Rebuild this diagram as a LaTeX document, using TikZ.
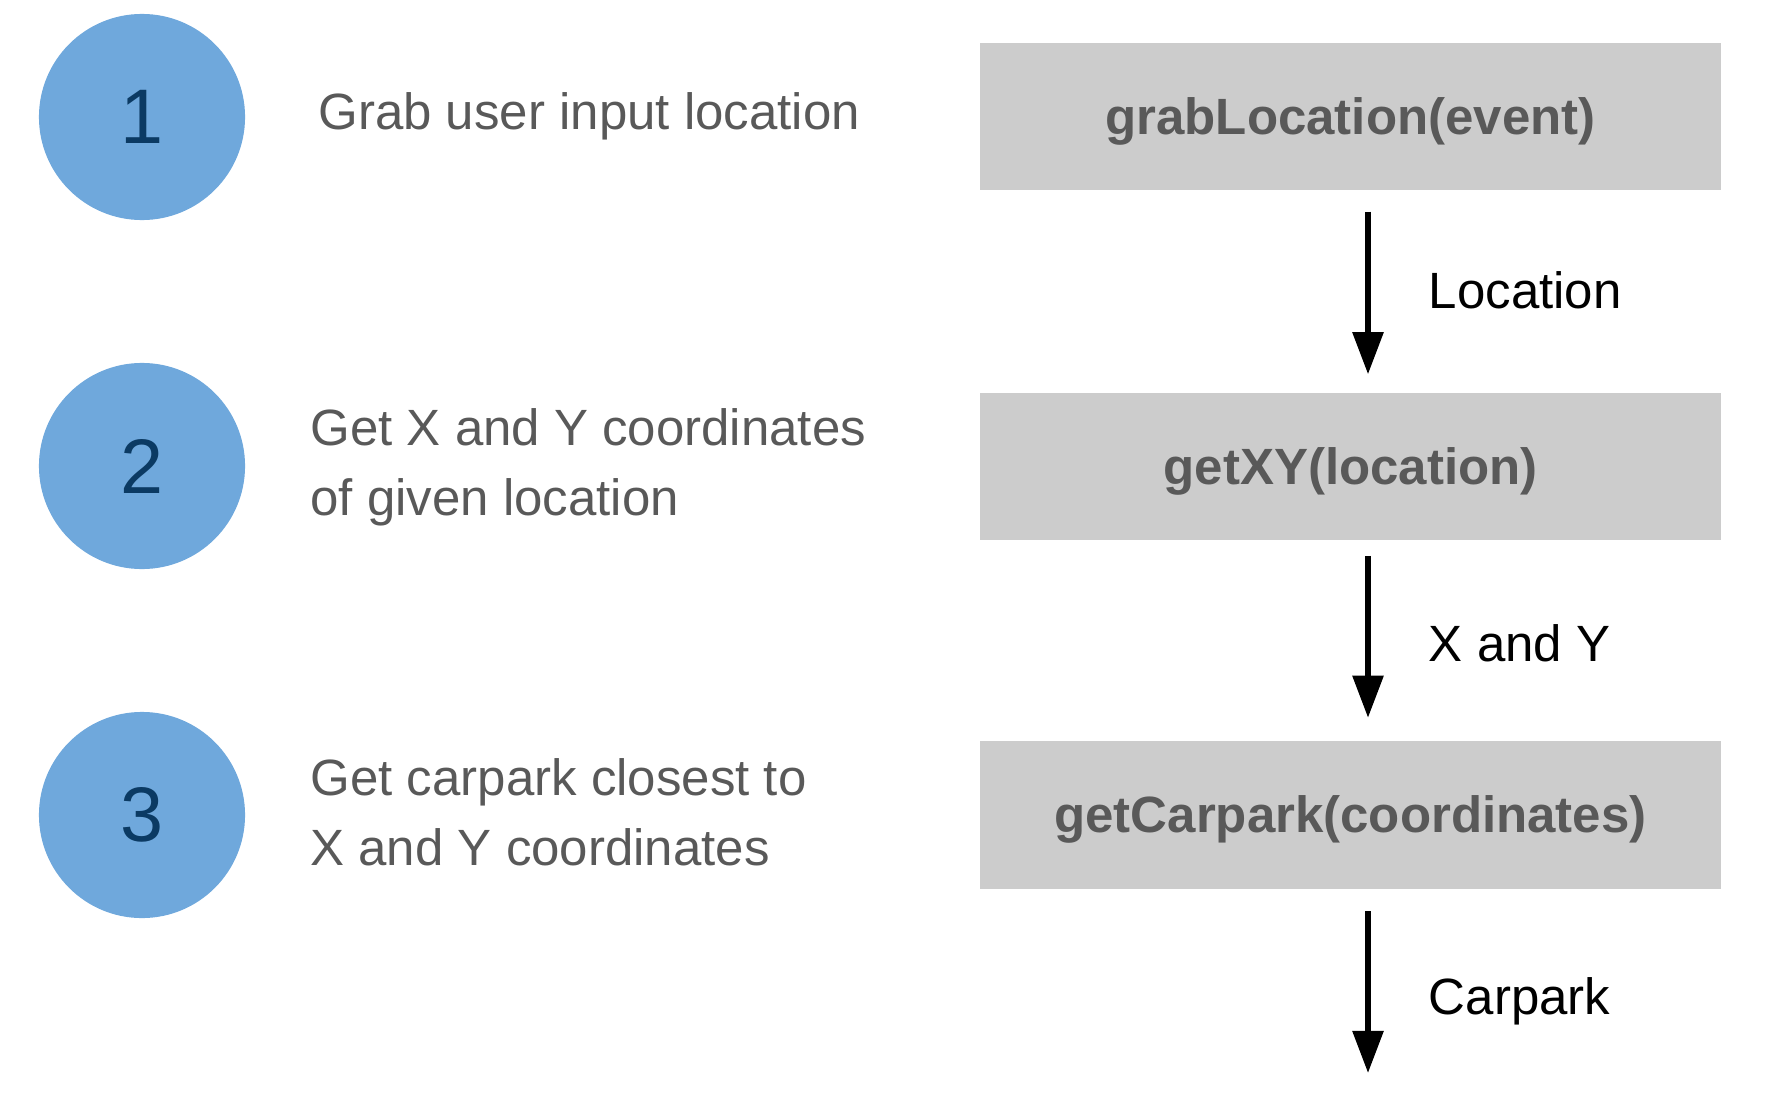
\documentclass[tikz,border=0pt]{standalone}
\usepackage{fontspec}
\setmainfont{Liberation Sans}
\usetikzlibrary{positioning,arrows.meta,calc}
\definecolor{stepblue}{HTML}{6FA8DC}
\definecolor{numblue}{HTML}{0B3A63}
\definecolor{textgrey}{HTML}{595959}
\definecolor{boxgrey}{HTML}{CCCCCC}

\begin{document}
\begin{tikzpicture}[
  x=0.01cm, y=-0.01cm,
  font=\fontsize{14.5}{19.9}\selectfont,
  stepnum/.style={circle, fill=stepblue, minimum size=2.06cm, inner sep=0pt,
                  text=numblue, font=\fontsize{22}{26}\selectfont},
  desc/.style={align=left, inner sep=0pt, text=textgrey},
  fnbox/.style={fill=boxgrey, minimum width=7.41cm, minimum height=1.47cm,
                inner sep=0pt, text depth=0.04em, text=textgrey,
                font=\fontsize{14.5}{19.9}\selectfont\bfseries},
  lbl/.style={inner sep=0pt, text=black},
  arr/.style={-{Triangle[length=0.42cm, width=0.3cm]}, line width=1.6pt},
]
\useasboundingbox (0,0) rectangle (1770,1094);

% ─── steps (left) ──────────────────────────────────────────────────────────
\node[stepnum] (step1) at (142,117) {1};
\node[stepnum] (step2) at (142,466) {2};
\node[stepnum] (step3) at (142,815) {3};

\node[desc, right=0.72cm of step1, yshift=0.01cm] (desc1) {Grab user input location};
\node[desc, right=0.64cm of step2, yshift=-0.015cm] (desc2)
  {Get X and Y coordinates\\of given location};
\node[desc, right=0.64cm of step3, yshift=0.03cm] (desc3)
  {Get carpark closest to\\X and Y coordinates};

% ─── functions (right) ─────────────────────────────────────────────────────
\node[fnbox] (fn1) at (1350.5,116.5) {grabLocation(event)};
\node[fnbox] (fn2) at (1350.5,466.5) {getXY(location)};
\node[fnbox] (fn3) at (1350.5,815) {getCarpark(coordinates)};
\coordinate (cpend) at (1368,1073);

\draw[arr] ($(fn1.south)+(17.5,21)$) -- node[lbl, right=0.58cm, yshift=0.025cm]{Location}
  ($(fn2.north)+(17.5,-18)$);
\draw[arr] ($(fn2.south)+(17.5,15)$) -- node[lbl, right=0.58cm, yshift=-0.067cm]{X and Y}
  ($(fn3.north)+(17.5,-23)$);
\draw[arr] ($(fn3.south)+(17.5,22)$) -- node[lbl, right=0.58cm, yshift=-0.09cm]{Carpark}
  (cpend);

\end{tikzpicture}
\end{document}
